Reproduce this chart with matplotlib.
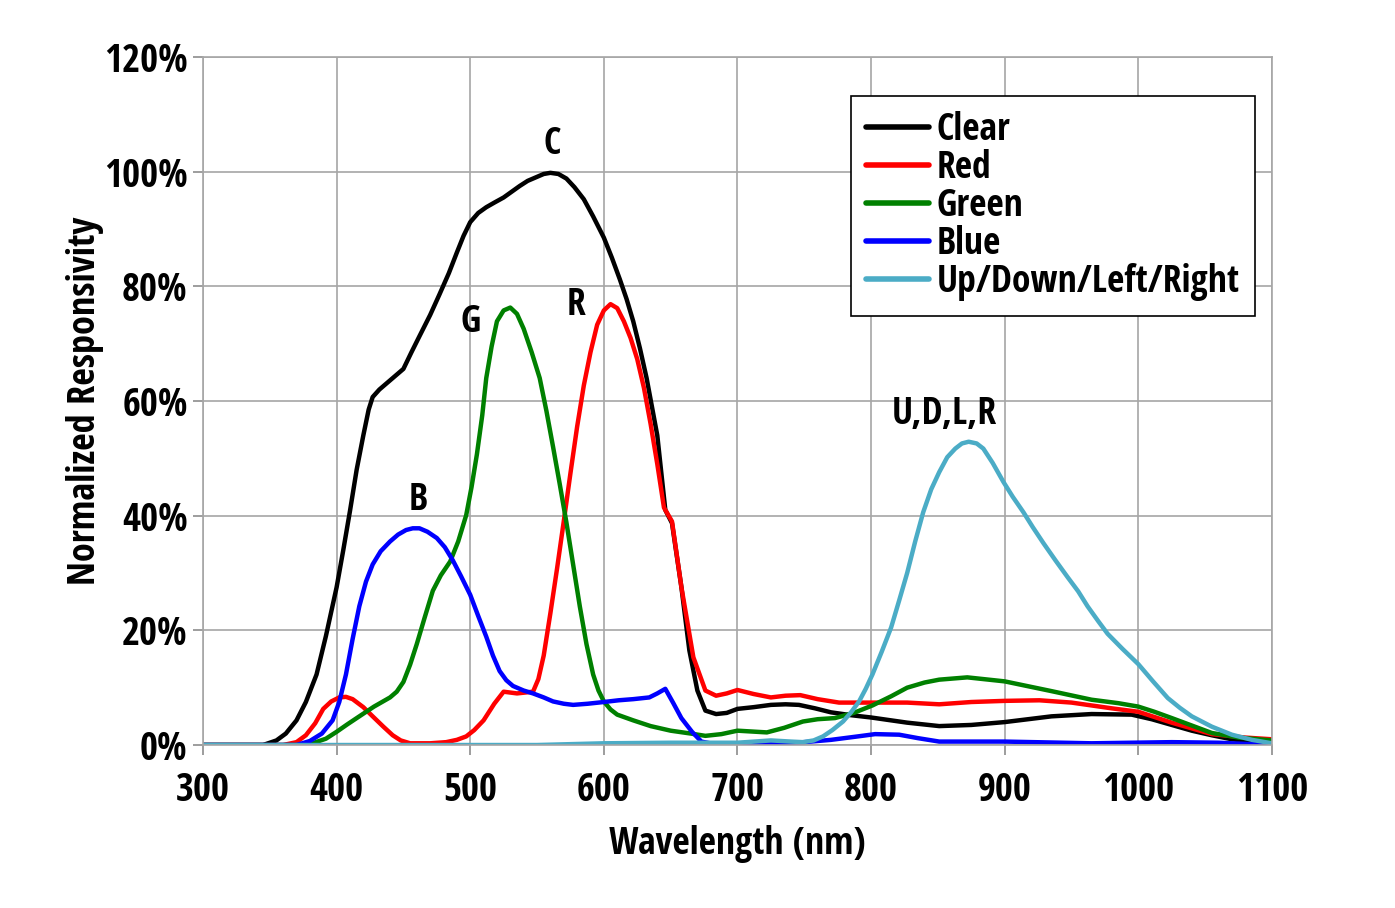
import numpy as np
import matplotlib
matplotlib.use('Agg')
import matplotlib.pyplot as plt

# wavelength (nm) / normalized responsivity (%)
clear_nm = [300, 345, 355, 362, 370, 377, 385, 392, 400, 405, 410, 415, 420, 424, 427, 432, 437,
            443, 450, 456, 462, 470, 477, 484, 490, 495, 500, 506, 512, 518, 525, 531, 537, 543,
            550, 555, 560, 566, 572, 578, 585, 592, 600, 606, 612, 617, 622, 627, 632, 636, 640,
            646, 651, 658, 664, 670, 676, 684, 692, 700, 712, 725, 736, 746, 758, 770, 785, 800,
            827, 851, 875, 900, 935, 965, 995, 1010, 1025, 1040, 1055, 1070, 1085, 1100]
clear_val = [0, 0, 0.8, 2.0, 4.3, 7.5, 12.3, 19, 27.5, 34, 40.8, 48, 54, 58.5, 60.7, 62, 63,
             64.2, 65.6, 68.5, 71.3, 75, 78.6, 82.3, 85.9, 88.8, 91.2, 92.8, 93.8, 94.6, 95.5, 96.5, 97.5, 98.4,
             99.1, 99.6, 99.8, 99.6, 98.8, 97.3, 95.2, 92.2, 88.5, 85, 81.2, 77.8, 73.9, 69.2, 64, 59, 54,
             41, 38.7, 27.6, 16.5, 9.5, 6, 5.4, 5.6, 6.3, 6.6, 7, 7.1, 7, 6.4, 5.7, 5.2, 4.8,
             3.9, 3.3, 3.5, 4, 5, 5.4, 5.3, 4.5, 3.5, 2.5, 1.7, 1, 0.6, 0.4]

red_nm = [300, 360, 370, 377, 384, 390, 396, 402, 407, 412, 420, 427, 435, 442, 448, 455, 470,
          482, 490, 497, 503, 510, 518, 525, 535, 547, 551, 555, 560, 565, 570, 575, 580, 585,
          590, 595, 600, 605, 610, 615, 620, 625, 630, 635, 640, 645, 651, 658, 667, 676, 684,
          692, 700, 712, 725, 736, 747, 760, 776, 800, 827, 851, 875, 900, 926, 950, 980, 1000,
          1025, 1055, 1080, 1100]
red_val = [0, 0, 0.5, 1.7, 3.8, 6.3, 7.6, 8.3, 8.4, 8, 6.6, 5, 3.2, 1.7, 0.8, 0.3, 0.3,
           0.5, 0.9, 1.5, 2.6, 4.3, 7.2, 9.3, 9.0, 9.3, 11.5, 15.6, 23, 30.8, 39, 47.4, 55.5, 62.7,
           68.5, 73.3, 75.8, 76.9, 76.2, 73.9, 71, 67.3, 62.3, 56, 49, 41.4, 39, 27.6, 15.3, 9.5, 8.6,
           9.0, 9.6, 8.9, 8.3, 8.6, 8.7, 8.0, 7.4, 7.4, 7.4, 7.1, 7.5, 7.7, 7.8, 7.4, 6.4, 5.8,
           3.9, 1.9, 1.3, 1.0]

green_nm = [300, 370, 382, 392, 400, 408, 417, 428, 440, 445, 450, 455, 460, 466, 472, 478,
            485, 491, 497, 501, 505, 509, 512, 516, 520, 525, 530, 535, 540, 546, 552, 557,
            562, 567, 572, 577, 582, 587, 592, 596, 600, 605, 610, 622, 635, 650, 665, 676,
            688, 700, 722, 735, 749, 760, 773, 787, 801, 815, 827, 840, 851, 872, 900, 935,
            965, 985, 1000, 1012, 1025, 1040, 1055, 1075, 1100]
green_val = [0, 0, 0.3, 1.1, 2.3, 3.6, 5, 6.7, 8.3, 9.3, 11, 14, 17.6, 22.3, 26.9, 29.6,
             32, 35.5, 40.1, 45, 50.7, 57.5, 64, 69.5, 73.9, 75.8, 76.3, 75.2, 72.6, 68.5, 64, 58.3,
             52, 45.5, 38.8, 31.5, 24.2, 17.6, 12.3, 9.5, 7.6, 6.2, 5.3, 4.3, 3.3, 2.5, 2.0, 1.6,
             1.9, 2.5, 2.2, 3.0, 4.1, 4.5, 4.7, 5.6, 6.9, 8.5, 10, 10.9, 11.4, 11.8, 11.1, 9.4,
             7.9, 7.3, 6.7, 5.8, 4.7, 3.4, 2.1, 1.3, 0.8]

blue_nm = [300, 370, 380, 389, 397, 402, 407, 412, 417, 422, 427, 433, 440, 446, 452, 457,
           462, 468, 475, 481, 487, 493, 500, 506, 512, 517, 522, 527, 532, 540, 547, 555,
           562, 570, 577, 588, 600, 611, 622, 634, 640, 646, 652, 658, 666, 673, 686, 700,
           725, 750, 770, 790, 803, 821, 835, 851, 900, 965, 1025, 1060, 1100]
blue_val = [0, 0, 0.7, 2.0, 4.3, 7.5, 12.3, 18.5, 24.2, 28.5, 31.5, 33.8, 35.5, 36.7, 37.5, 37.8,
            37.8, 37.2, 36.1, 34.5, 32.2, 29.5, 26.2, 22.5, 18.9, 15.6, 12.9, 11.3, 10.3, 9.5, 9, 8.3,
            7.6, 7.2, 7, 7.2, 7.5, 7.8, 8.0, 8.3, 9.0, 9.8, 7.3, 4.7, 2.3, 0.6, 0, 0.1,
            0.3, 0.5, 0.9, 1.5, 1.9, 1.8, 1.2, 0.6, 0.6, 0.3, 0.5, 0.4, 0]

udlr_nm = [300, 550, 600, 650, 700, 725, 740, 749, 757, 764, 771, 779, 785, 791, 796, 801,
           808, 815, 821, 827, 833, 839, 845, 851, 857, 863, 868, 873, 879, 884, 891, 899,
           906, 914, 921, 929, 938, 947, 955, 962, 970, 977, 988, 1000, 1011, 1022, 1031, 1040,
           1055, 1070, 1085, 1100]
udlr_val = [0, 0, 0.3, 0.4, 0.4, 0.8, 0.6, 0.5, 0.8, 1.5, 2.6, 4.1, 5.7, 7.6, 9.8, 12.3,
            16.3, 20.5, 25.2, 30, 35.5, 40.6, 44.6, 47.6, 50.2, 51.7, 52.6, 52.9, 52.6, 51.7, 49.2, 45.9,
            43.3, 40.6, 38, 35.2, 32.2, 29.3, 26.8, 24.2, 21.6, 19.4, 16.8, 14.1, 11.1, 8.2, 6.5, 5,
            3.2, 1.8, 0.9, 0.3]

series = [
    ('Clear', clear_nm, clear_val, '#000000'),
    ('Red', red_nm, red_val, '#FF0000'),
    ('Green', green_nm, green_val, '#008000'),
    ('Blue', blue_nm, blue_val, '#0000FF'),
    ('Up/Down/Left/Right', udlr_nm, udlr_val, '#4BACC6'),
]

# curve tags: text, wavelength, responsivity
tags = [('C', 561, 101.5), ('G', 500, 70.5), ('R', 579, 73.5), ('B', 461, 39.5), ('U,D,L,R', 855, 54.5)]

cond = ['Open Sans Condensed', 'DejaVu Sans']

fig = plt.figure(figsize=(13.95, 9.08), dpi=100)
ax = fig.add_axes([0.1455, 0.1795, 0.7663, 0.7577])

for name, x, y, c in series:
    ax.plot(x, y, color=c, linewidth=3.2, label=name, solid_joinstyle='round',
            solid_capstyle='round')

for t, x, y in tags:
    ax.text(x, y, t, fontsize=27, fontweight='bold', family=cond, ha='center', va='bottom')

ax.set_xlim(300, 1100)
ax.set_ylim(0, 120)
ax.set_xticks(np.arange(300, 1101, 100))
ax.set_yticks(np.arange(0, 121, 20))
ax.set_yticklabels([f'{v}%' for v in range(0, 121, 20)])
ax.grid(True, color='#A6A6A6', linewidth=1.2)
ax.set_axisbelow(True)
for s in ax.spines.values():
    s.set_color('#A6A6A6')
    s.set_linewidth(1.2)
ax.tick_params(direction='out', length=7, width=1.2, color='#8C8C8C', pad=4)
ax.tick_params(axis='x', pad=12)
for lab in ax.get_xticklabels() + ax.get_yticklabels():
    lab.set_fontweight('bold')
    lab.set_family(cond)
    lab.set_fontsize(28)

ax.set_xlabel('Wavelength (nm)', fontsize=27, fontweight='bold', family=cond, labelpad=10)
ax.set_ylabel('Normalized Responsivity', fontsize=27.5, fontweight='bold', family=cond, labelpad=0)

leg = ax.legend(loc='upper right', bbox_to_anchor=(0.984, 0.943), borderaxespad=0,
                fancybox=False, framealpha=1, edgecolor='black', handlelength=1.7,
                handletextpad=0.2, labelspacing=0.0, borderpad=0.4,
                prop={'family': cond, 'weight': 'bold', 'size': 27})
leg.get_frame().set_linewidth(1.2)
for h in leg.get_lines():
    h.set_linewidth(4)

plt.savefig('out.png', dpi=100)
plt.close()
